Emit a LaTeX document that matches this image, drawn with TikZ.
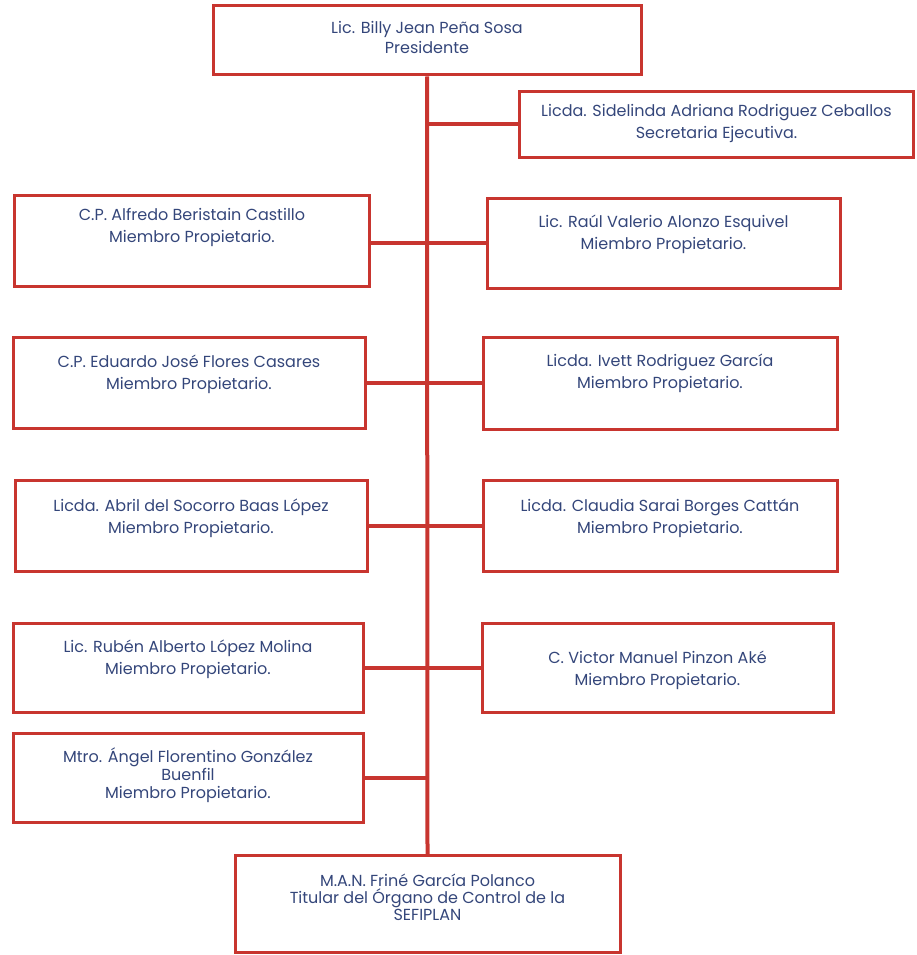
\documentclass[tikz,border=0pt]{standalone}
\usepackage{fontspec}
\setmainfont{Poppins}
\definecolor{rojo}{HTML}{C8352F}
\definecolor{azul}{HTML}{34467A}
\tikzset{
  cargo/.style={draw=rojo, line width=3pt, text=azul, inner sep=0pt,
    font=\fontsize{16}{22}\selectfont},
  linea/.style={draw=rojo, line width=4pt},
}
% box text: width, height, top space, text
\newcommand{\puesto}[4]{\parbox[t][#2][t]{#1}{\centering\vspace*{#3}#4}}

\begin{document}
\begin{tikzpicture}[x=1pt,y=-1pt]
\useasboundingbox (0,0) rectangle (916,955);
% nodes
\node [cargo] (pres) at (427,40.5) {\puesto{428pt}{69pt}{15pt}{\baselineskip=20pt Lic. Billy Jean Peña Sosa\\Presidente}};
\node [cargo] (secr) at (716.5,124.5) {\puesto{394pt}{65pt}{12pt}{Licda. Sidelinda Adriana Rodriguez Ceballos\\Secretaria Ejecutiva.}};

\node [cargo] (m1) at (192,241) {\puesto{355pt}{91pt}{13pt}{C.P. Alfredo Beristain Castillo\\Miembro Propietario.}};
\node [cargo] (m2) at (663.5,243) {\puesto{353pt}{90pt}{17pt}{Lic. Raúl Valerio Alonzo Esquivel\\Miembro Propietario.}};

\node [cargo] (m3) at (189,383) {\puesto{352pt}{91pt}{17pt}{C.P. Eduardo José Flores Casares\\Miembro Propietario.}};
\node [cargo] (m4) at (660,383) {\puesto{354pt}{92pt}{17pt}{Licda. Ivett Rodriguez García\\Miembro Propietario.}};

\node [cargo] (m5) at (191,526) {\puesto{352pt}{91pt}{18pt}{Licda. Abril del Socorro Baas López\\Miembro Propietario.}};
\node [cargo] (m6) at (660,526) {\puesto{354pt}{91pt}{18pt}{Licda. Claudia Sarai Borges Cattán\\Miembro Propietario.}};

\node [cargo] (m7) at (188,668) {\puesto{350pt}{89pt}{16pt}{Lic. Rubén Alberto López Molina\\Miembro Propietario.}};
\node [cargo] (m8) at (657.5,668) {\puesto{351pt}{89pt}{27pt}{C. Victor Manuel Pinzon Aké\\Miembro Propietario.}};

\node [cargo] (m9) at (188,778) {\puesto{350pt}{89pt}{14pt}{\baselineskip=18pt Mtro. Ángel Florentino González\\Buenfil\\Miembro Propietario.}};

\node [cargo] (tit) at (427.5,904) {\puesto{385pt}{97pt}{18pt}{\baselineskip=17pt M.A.N. Friné García Polanco\\Titular del Órgano de Control de la\\SEFIPLAN}};

% lines
\draw [linea] (pres.south) -- (tit.north);
\draw [linea] (pres.south |- secr.west) -- (secr.west);
\draw [linea] (m1.east |- m2.west) -- (m2.west);
\draw [linea] (m3.east) -- (m4.west);
\draw [linea] (m5.east) -- (m6.west);
\draw [linea] (m7.east) -- (m8.west);
\draw [linea] (m9.east) -- (m9.east -| pres.south);
\end{tikzpicture}
\end{document}
